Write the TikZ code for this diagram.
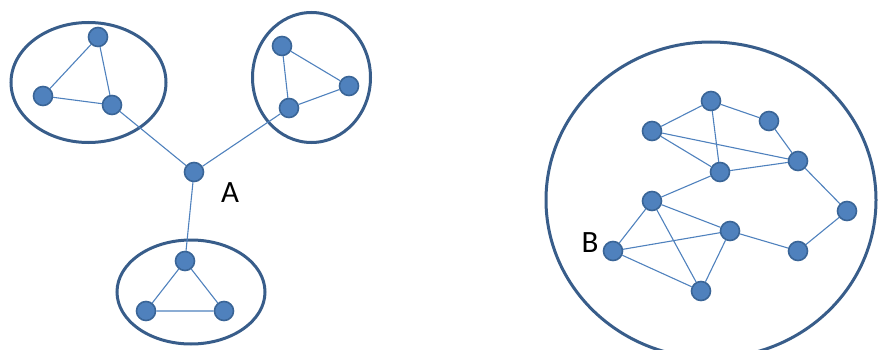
\documentclass[tikz,border=0pt]{standalone}
\usepackage{fontspec}
\setmainfont{Carlito}
\begin{document}
\begin{tikzpicture}[x=1pt,y=-1pt,
  vtx/.style={circle,fill=nodefill,draw=nodeborder,line width=1.6pt,minimum size=19pt,inner sep=0pt},
  grp/.style={draw=ringcol,line width=3pt},
  edge/.style={draw=edgecol,line width=1.1pt},
  lab/.style={font=\fontsize{31}{31}\selectfont,text=black,inner sep=0pt}]
\definecolor{nodefill}{HTML}{4F81BD}
\definecolor{nodeborder}{HTML}{3A6597}
\definecolor{ringcol}{HTML}{385D8A}
\definecolor{edgecol}{HTML}{4F81BD}
\colorlet{nodefill}{nodefill}
\useasboundingbox (0,0) rectangle (878,350);
% group ellipses
\draw[grp] (88.5,82.5) ellipse [x radius=77.5, y radius=60];
\draw[grp] (311.5,77.5) ellipse [x radius=59, y radius=65];
\draw[grp] (191,292) ellipse [x radius=74, y radius=52];
\draw[grp] (711,200) ellipse [x radius=165, y radius=158];
% left part nodes
\node[vtx] (a1) at (98,37) {};
\node[vtx] (a2) at (43,96) {};
\node[vtx] (a3) at (112,105) {};
\node[vtx] (c1) at (282,46) {};
\node[vtx] (c2) at (349,86) {};
\node[vtx] (c3) at (289,108) {};
\node[vtx] (d1) at (185,261) {};
\node[vtx] (d2) at (146,311) {};
\node[vtx] (d3) at (224,311) {};
\node[vtx] (A) at (194,172) {};
\node[lab] (la) at (230,193) {A};
% right part nodes
\node[vtx] (b1) at (711,101) {};
\node[vtx] (b2) at (769,121) {};
\node[vtx] (b3) at (652,131) {};
\node[vtx] (b4) at (798,161) {};
\node[vtx] (b5) at (720,172) {};
\node[vtx] (b6) at (652,201) {};
\node[vtx] (b7) at (847,211) {};
\node[vtx] (b8) at (730,231) {};
\node[vtx] (b9) at (613,251) {};
\node[vtx] (b10) at (798,251) {};
\node[vtx] (b11) at (701,291) {};
\node[lab] (lb) at (590,243) {B};
% edges
\begin{scope}[on background layer/.try]
\end{scope}
\path[edge] (a1) -- (a2) (a2) -- (a3) (a3) -- (a1)
  (c1) -- (c2) (c2) -- (c3) (c3) -- (c1)
  (d1) -- (d2) (d2) -- (d3) (d3) -- (d1)
  (A) -- (a3) (A) -- (c3) (A) -- (d1)
  (b3) -- (b1) (b1) -- (b2) (b1) -- (b5) (b3) -- (b5) (b3) -- (b4)
  (b2) -- (b4) (b5) -- (b4) (b4) -- (b7) (b5) -- (b6) (b6) -- (b8)
  (b6) -- (b9) (b6) -- (b11) (b9) -- (b8) (b9) -- (b11) (b8) -- (b11)
  (b8) -- (b10) (b10) -- (b7);
\end{tikzpicture}
\end{document}
